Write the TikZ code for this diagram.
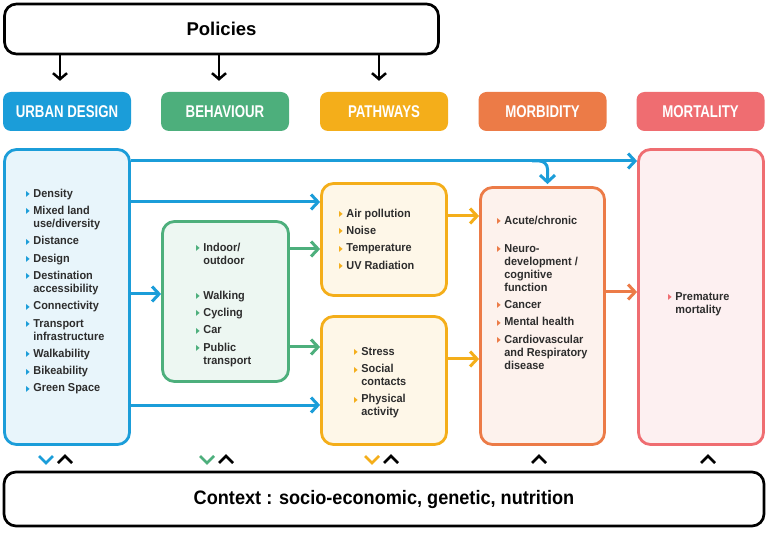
\documentclass[tikz,border=0pt]{standalone}
\usepackage{fontspec}
\setmainfont{Liberation Sans}
\newfontfamily\hdrfont{Liberation Sans}[FakeStretch=0.78]
\newfontfamily\itemfont{Liberation Sans}[FakeStretch=0.95]
\newfontfamily\ctxfont{Liberation Sans}[FakeStretch=0.93]
\newfontfamily\trifont{DejaVu Sans}
\usetikzlibrary{arrows.meta}

\definecolor{ublue}{HTML}{1B9DD9}
\definecolor{bgreen}{HTML}{4DAF7C}
\definecolor{pyellow}{HTML}{F4AE1A}
\definecolor{morange}{HTML}{EC7B47}
\definecolor{mpink}{HTML}{EF6D71}
\definecolor{txt}{HTML}{2D2D2D}

\newcommand{\bul}[1]{\textcolor{#1}{\raisebox{0.6pt}{\scalebox{0.6}[1]{\trifont\fontsize{8}{8}\selectfont ▶}}}}
\newlength{\itemgap}
\setlength{\itemgap}{4.3pt}

\tikzset{
  hdr/.style={fill=#1, rounded corners=8pt, minimum width=128pt, minimum height=39pt,
    text=white, font={\hdrfont\bfseries\fontsize{17}{17}\selectfont}},
  box/.style={draw=#1, fill=#1!10, line width=2.8pt, rounded corners=12pt},
  items/.style={anchor=north west, inner sep=0pt, text=txt,
    font={\itemfont\bfseries\fontsize{11.5}{13}\selectfont}},
  flow/.style={draw=#1, line width=3pt, -{Straight Barb[length=7pt,width=15pt]}},
  frame/.style={draw=black, line width=2.7pt, rounded corners=12pt, fill=white, text=black},
  chev/.style={draw=#1, line width=2.6pt},
}

\begin{document}
\begin{tikzpicture}[x=1pt,y=-1pt]
\useasboundingbox (0,0) rectangle (768,534);

% policies and context
\node[frame, minimum width=434pt, minimum height=50pt,
  font={\bfseries\fontsize{18.5}{18.5}\selectfont}] (pol) at (221.5,29) {Policies};
\node[frame, minimum width=760pt, minimum height=54pt,
  font={\ctxfont\bfseries\fontsize{19.5}{19.5}\selectfont}] (ctx) at (384,499) {Context : socio-economic, genetic, nutrition};

% column headers
\node[hdr=ublue] (hurban) at (67,111.5) {URBAN DESIGN};
\node[hdr=bgreen] (hbehav) at (225,111.5) {BEHAVIOUR};
\node[hdr=pyellow] (hpath) at (384,111.5) {PATHWAYS};
\node[hdr=morange] (hmorb) at (542.5,111.5) {MORBIDITY};
\node[hdr=mpink] (hmort) at (700.5,111.5) {MORTALITY};

% policy arrows
\begin{scope}[line width=2.5pt, -{Straight Barb[length=6pt,width=14pt]}, shorten >=11pt]
\draw (pol.south -| 60,0) -- (hurban.north -| 60,0);
\draw (pol.south -| 219,0) -- (hbehav.north -| 219,0);
\draw (pol.south -| 379,0) -- (hpath.north -| 379,0);
\end{scope}

% boxes
\node[box=ublue, minimum width=125pt, minimum height=295pt] (urban) at (67,297) {};
\node[box=bgreen, minimum width=126pt, minimum height=160pt] (behav) at (225.5,301.5) {};
\node[box=pyellow, minimum width=125pt, minimum height=112pt] (path1) at (384,239.5) {};
\node[box=pyellow, minimum width=125pt, minimum height=128pt] (path2) at (384,380.5) {};
\node[box=morange, minimum width=124pt, minimum height=257pt] (morb) at (542.5,316) {};
\node[box=mpink, minimum width=125pt, minimum height=295pt] (mort) at (701,297) {};

% box contents
\node[items] (urbanlist) at (26,188) {\begin{tabular}{@{}l@{\hspace{3.5pt}}l@{}}
\bul{ublue} & Density\\[\itemgap]
\bul{ublue} & Mixed land\\ & use/diversity\\[\itemgap]
\bul{ublue} & Distance\\[\itemgap]
\bul{ublue} & Design\\[\itemgap]
\bul{ublue} & Destination\\ & accessibility\\[\itemgap]
\bul{ublue} & Connectivity\\[\itemgap]
\bul{ublue} & Transport\\ & infrastructure\\[\itemgap]
\bul{ublue} & Walkability\\[\itemgap]
\bul{ublue} & Bikeability\\[\itemgap]
\bul{ublue} & Green Space
\end{tabular}};
\node[items] (behavlist) at (196,242) {\begin{tabular}{@{}l@{\hspace{3.5pt}}l@{}}
\bul{bgreen} & Indoor/\\ & outdoor\\[22pt]
\bul{bgreen} & Walking\\[\itemgap]
\bul{bgreen} & Cycling\\[\itemgap]
\bul{bgreen} & Car\\[\itemgap]
\bul{bgreen} & Public\\ & transport
\end{tabular}};
\node[items] (path1list) at (339,208) {\begin{tabular}{@{}l@{\hspace{3.5pt}}l@{}}
\bul{pyellow} & Air pollution\\[\itemgap]
\bul{pyellow} & Noise\\[\itemgap]
\bul{pyellow} & Temperature\\[\itemgap]
\bul{pyellow} & UV Radiation
\end{tabular}};
\node[items] (path2list) at (354,346) {\begin{tabular}{@{}l@{\hspace{3.5pt}}l@{}}
\bul{pyellow} & Stress\\[\itemgap]
\bul{pyellow} & Social\\ & contacts\\[\itemgap]
\bul{pyellow} & Physical\\ & activity
\end{tabular}};
\node[items] (morblist) at (497,215) {\begin{tabular}{@{}l@{\hspace{3.5pt}}l@{}}
\bul{morange} & Acute/chronic\\[15pt]
\bul{morange} & Neuro-\\ & development /\\ & cognitive\\ & function\\[\itemgap]
\bul{morange} & Cancer\\[\itemgap]
\bul{morange} & Mental health\\[\itemgap]
\bul{morange} & Cardiovascular\\ & and Respiratory\\ & disease
\end{tabular}};
\node[items] (mortlist) at (668,291) {\begin{tabular}{@{}l@{\hspace{3.5pt}}l@{}}
\bul{mpink} & Premature\\ & mortality
\end{tabular}};

% connectors
\coordinate (split) at (532,161);
\draw[flow=ublue] (urban.east |- 0,161) -- (mort.west |- 0,161);
\draw[flow=ublue, rounded corners=8pt, shorten >=2pt] (split) -| ([xshift=5pt]morb.north);
\draw[flow=ublue] (urban.east |- 0,202) -- (path1.west |- 0,202);
\draw[flow=ublue] (urban.east |- 0,294) -- (behav.west |- 0,294);
\draw[flow=ublue] (urban.east |- 0,405) -- (path2.west |- 0,405);
\draw[flow=bgreen] (behav.east |- 0,249) -- (path1.west |- 0,249);
\draw[flow=bgreen] (behav.east |- 0,347) -- (path2.west |- 0,347);
\draw[flow=pyellow] (path1.east |- 0,216) -- (morb.west |- 0,216);
\draw[flow=pyellow] (path2.east |- 0,359) -- (morb.west |- 0,359);
\draw[flow=morange] (morb.east |- 0,292) -- (mort.west |- 0,292);

% feedback marks above the context box
\foreach \x/\c in {46/ublue, 207/bgreen, 372/pyellow} {
  \draw[chev=\c] (\x-7,456) -- (\x,463) -- (\x+7,456);
  \draw[chev=black] (\x+12,463) -- (\x+19,456) -- (\x+26,463);
}
\foreach \x in {539, 708}
  \draw[chev=black] (\x-7,463) -- (\x,456) -- (\x+7,463);
\end{tikzpicture}
\end{document}
